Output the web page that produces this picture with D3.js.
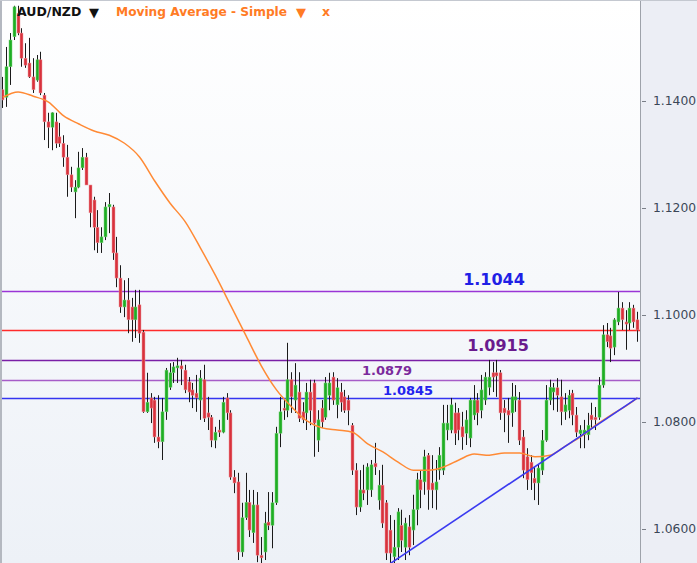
<!DOCTYPE html>
<html><head><meta charset="utf-8">
<script src="https://cdn.jsdelivr.net/npm/d3@7"></script>
<style>html,body{margin:0;padding:0;background:#fff;} svg{display:block;}</style>
</head><body>
<svg id="c" width="697" height="563"></svg>
<script>
// ---- data (AUD/NZD daily candles) ----
const opens = [
1.1421,1.1407,1.1464,1.1520,1.1564,1.1527,1.1480,1.1471,1.1445,1.1439,
1.1477,1.1411,1.1361,1.1351,1.1361,1.1333,1.1321,1.1295,1.1262,1.1230,
1.1239,1.1275,1.1295,1.1243,1.1215,1.1164,1.1135,1.1146,1.1202,1.1202,
1.1116,1.1069,1.1015,1.1028,1.1015,1.0991,1.1019,1.0968,1.0819,1.0845,
1.0841,1.0772,1.0763,1.0819,1.0865,1.0892,1.0901,1.0905,1.0897,1.0875,
1.0860,1.0854,1.0841,1.0879,1.0817,1.0809,1.0766,1.0785,1.0781,1.0845,
1.0817,1.0697,1.0688,1.0557,1.0621,1.0650,1.0593,1.0645,1.0551,1.0557,
1.0613,1.0607,1.0649,1.0779,1.0826,1.0822,1.0879,1.0841,1.0856,1.0819,
1.0817,1.0856,1.0873,1.0766,1.0826,1.0809,1.0850,1.0884,1.0832,1.0856,
1.0847,1.0841,1.0794,1.0710,1.0641,1.0673,1.0673,1.0673,1.0723,1.0654,
1.0682,1.0649,1.0598,1.0548,1.0566,1.0607,1.0566,1.0604,1.0598,1.0636,
1.0692,1.0688,1.0738,1.0686,1.0673,1.0710,1.0710,1.0785,1.0785,1.0817,
1.0817,1.0791,1.0779,1.0770,1.0813,1.0841,1.0822,1.0841,1.0865,1.0892,
1.0892,1.0892,1.0826,1.0822,1.0817,1.0841,1.0841,1.0772,1.0735,1.0725,
1.0695,1.0686,1.0710,1.0766,1.0841,1.0856,1.0864,1.0847,1.0819,1.0822,
1.0854,1.0813,1.0778,1.0776,1.0776,1.0813,1.0809,1.0809,1.0869,1.0963,
1.0961,1.0940,1.0987,1.1013,1.0987,1.0985,1.1013,1.0991];
const highs = [
1.1445,1.1501,1.1527,1.1578,1.1578,1.1536,1.1508,1.1518,1.1480,1.1486,
1.1492,1.1415,1.1378,1.1379,1.1378,1.1359,1.1336,1.1318,1.1277,1.1252,
1.1305,1.1312,1.1303,1.1243,1.1221,1.1196,1.1164,1.1211,1.1228,1.1206,
1.1146,1.1093,1.1065,1.1069,1.1032,1.1047,1.1047,1.0972,1.0892,1.0854,
1.0847,1.0850,1.0845,1.0901,1.0910,1.0912,1.0920,1.0916,1.0907,1.0884,
1.0873,1.0888,1.0897,1.0907,1.0847,1.0813,1.0791,1.0804,1.0847,1.0854,
1.0822,1.0710,1.0705,1.0649,1.0705,1.0673,1.0673,1.0669,1.0585,1.0632,
1.0669,1.0669,1.0791,1.0847,1.0841,1.0948,1.0893,1.0910,1.0893,1.0837,
1.0873,1.0879,1.0879,1.0822,1.0841,1.0884,1.0892,1.0893,1.0882,1.0873,
1.0860,1.0850,1.0798,1.0723,1.0710,1.0720,1.0723,1.0729,1.0761,1.0710,
1.0720,1.0654,1.0626,1.0617,1.0639,1.0636,1.0621,1.0626,1.0664,1.0705,
1.0710,1.0748,1.0742,1.0738,1.0729,1.0753,1.0832,1.0832,1.0845,1.0836,
1.0826,1.0819,1.0822,1.0845,1.0869,1.0854,1.0888,1.0893,1.0916,1.0912,
1.0916,1.0897,1.0841,1.0845,1.0873,1.0869,1.0856,1.0785,1.0751,1.0738,
1.0716,1.0720,1.0785,1.0869,1.0879,1.0873,1.0882,1.0879,1.0854,1.0860,
1.0860,1.0828,1.0794,1.0804,1.0817,1.0836,1.0828,1.0884,1.0981,1.0985,
1.0976,1.0994,1.1043,1.1024,1.1009,1.1024,1.1019,1.1006];
const lows = [
1.1387,1.1389,1.1430,1.1514,1.1523,1.1464,1.1462,1.1443,1.1415,1.1436,
1.1411,1.1327,1.1312,1.1308,1.1312,1.1314,1.1277,1.1221,1.1230,1.1181,
1.1237,1.1271,1.1243,1.1164,1.1121,1.1116,1.1116,1.1140,1.1153,1.1103,
1.1052,1.1004,1.0996,1.0966,1.0950,1.0957,1.0948,1.0817,1.0817,1.0798,
1.0761,1.0751,1.0729,1.0804,1.0860,1.0873,1.0873,1.0869,1.0854,1.0837,
1.0826,1.0819,1.0804,1.0800,1.0785,1.0753,1.0751,1.0772,1.0779,1.0804,
1.0692,1.0667,1.0542,1.0548,1.0617,1.0585,1.0574,1.0538,1.0536,1.0542,
1.0598,1.0564,1.0645,1.0753,1.0804,1.0809,1.0817,1.0817,1.0800,1.0798,
1.0785,1.0794,1.0735,1.0744,1.0789,1.0804,1.0822,1.0832,1.0807,1.0819,
1.0817,1.0794,1.0701,1.0626,1.0632,1.0654,1.0645,1.0660,1.0701,1.0636,
1.0602,1.0542,1.0536,1.0536,1.0542,1.0557,1.0542,1.0551,1.0570,1.0607,
1.0639,1.0664,1.0636,1.0639,1.0636,1.0692,1.0701,1.0766,1.0779,1.0757,
1.0766,1.0748,1.0757,1.0753,1.0804,1.0794,1.0807,1.0832,1.0850,1.0856,
1.0847,1.0804,1.0781,1.0761,1.0791,1.0819,1.0757,1.0695,1.0673,1.0673,
1.0654,1.0645,1.0701,1.0763,1.0832,1.0822,1.0819,1.0794,1.0804,1.0807,
1.0794,1.0772,1.0751,1.0751,1.0766,1.0789,1.0785,1.0804,1.0864,1.0940,
1.0912,1.0925,1.0981,1.0972,1.0935,1.0972,1.0976,1.0950];
const closes = [
1.1402,1.1464,1.1514,1.1576,1.1527,1.1480,1.1467,1.1445,1.1421,1.1477,
1.1415,1.1361,1.1351,1.1378,1.1321,1.1321,1.1295,1.1262,1.1239,1.1239,
1.1275,1.1295,1.1243,1.1191,1.1164,1.1135,1.1146,1.1202,1.1207,1.1116,
1.1069,1.1015,1.1028,1.0991,1.0991,1.1015,1.0966,1.0819,1.0837,1.0826,
1.0772,1.0763,1.0819,1.0897,1.0892,1.0903,1.0905,1.0899,1.0860,1.0856,
1.0850,1.0845,1.0882,1.0807,1.0809,1.0766,1.0781,1.0781,1.0837,1.0817,
1.0697,1.0686,1.0557,1.0621,1.0650,1.0598,1.0645,1.0551,1.0546,1.0611,
1.0607,1.0649,1.0779,1.0819,1.0822,1.0879,1.0847,1.0869,1.0807,1.0804,
1.0856,1.0822,1.0798,1.0804,1.0800,1.0873,1.0873,1.0841,1.0864,1.0837,
1.0822,1.0822,1.0710,1.0641,1.0673,1.0667,1.0716,1.0720,1.0716,1.0682,
1.0611,1.0555,1.0555,1.0566,1.0632,1.0579,1.0611,1.0566,1.0636,1.0692,
1.0673,1.0735,1.0673,1.0673,1.0688,1.0738,1.0798,1.0798,1.0832,1.0779,
1.0785,1.0772,1.0804,1.0841,1.0841,1.0817,1.0860,1.0884,1.0884,1.0884,
1.0886,1.0817,1.0817,1.0813,1.0847,1.0847,1.0766,1.0710,1.0692,1.0705,
1.0686,1.0714,1.0766,1.0841,1.0865,1.0864,1.0850,1.0819,1.0832,1.0850,
1.0813,1.0781,1.0785,1.0785,1.0794,1.0804,1.0804,1.0869,1.0963,1.0950,
1.0938,1.0991,1.1013,1.0991,1.0983,1.1013,1.0987,1.0972];

// Simple moving average, read at every 4th candle
const maIndex = [0,4,8,12,16,20,24,28,32,36,40,44,48,52,56,60,64,68,72,76,80,84,88,92,96,100,104,108,112,116,120,124,128,132,136,140,144,148,152,156,160,164,167];
const maValues = [1.1407,1.1417,1.1409,1.1398,1.1372,1.1357,1.1344,1.1336,1.1321,1.1295,1.1250,1.1209,1.1174,1.1125,1.1073,1.1017,1.0961,1.0905,1.0860,1.0828,1.0802,1.0789,1.0785,1.0781,1.0759,1.0744,1.0725,1.0710,1.0710,1.0716,1.0729,1.0740,1.0738,1.0742,1.0742,1.0735,1.0738,1.0755,1.0772,1.0794,1.0813,1.0830,1.0845];

// horizontal levels and labels
const levelValues = [1.1044, 1.0972, 1.0915, 1.0879, 1.0845];
const labelTexts  = ["1.1044", "", "1.0915", "1.0879", "1.0845"];

// trend line (two anchor candles)
const trendIndex = [101, 167];
const trendValues = [1.0531, 1.0845];

const yTicks = [1.06, 1.08, 1.10, 1.12, 1.14];

// ---- drawing ----
const W = 697, H = 563, plotR = 640;
const svg = d3.select("#c");
const defs = svg.append("defs");
const grad = defs.append("linearGradient").attr("id","bg").attr("x1",0).attr("y1",0).attr("x2",0).attr("y2",1);
grad.append("stop").attr("offset","0%").attr("stop-color","#ffffff");
grad.append("stop").attr("offset","100%").attr("stop-color","#edf1f7");
defs.append("clipPath").attr("id","clip").append("rect").attr("x",2).attr("y",1).attr("width",plotR-2).attr("height",H-1);

svg.append("rect").attr("x",0).attr("y",0).attr("width",plotR).attr("height",H).attr("fill","url(#bg)");
svg.append("rect").attr("x",plotR).attr("y",0).attr("width",W-plotR).attr("height",H).attr("fill","#eceef5");
svg.append("line").attr("x1",plotR+0.5).attr("x2",plotR+0.5).attr("y1",0).attr("y2",H).attr("stroke","#9ea2aa");
svg.append("line").attr("x1",1).attr("x2",1).attr("y1",0).attr("y2",H).attr("stroke","#b4b8c0").attr("stroke-width",2);
svg.append("line").attr("x1",0).attr("x2",W).attr("y1",0.5).attr("y2",0.5).attr("stroke","#c4c8d0");

const n = opens.length;
const x = d3.scaleBand().domain(d3.range(n)).range([1, 639.4]).paddingInner(0.2).paddingOuter(0.1);
const cx = i => x(i) + x.bandwidth()/2;
const y = d3.scaleLinear().domain([1.06, 1.14]).range([529, 101]);

const plot = svg.append("g").attr("clip-path","url(#clip)");

// level lines
const levelColors = ["#9a35d6", "#ff2b2b", "#7a1fa6", "#a65cc8", "#3434f0"];
plot.selectAll("line.lvl").data(levelValues).enter().append("line")
  .attr("x1",2).attr("x2",plotR)
  .attr("y1",d=>Math.round(y(d))+0.5).attr("y2",d=>Math.round(y(d))+0.5)
  .attr("stroke",(d,i)=>levelColors[i]).attr("stroke-width",1.4);

// candles
const data = d3.range(n).map(i=>({i,o:opens[i],h:highs[i],l:lows[i],c:closes[i]}));
const cg = plot.append("g");
cg.selectAll("line.w").data(data).enter().append("line")
  .attr("x1",d=>Math.round(x(d.i))+1.5).attr("x2",d=>Math.round(x(d.i))+1.5)
  .attr("y1",d=>y(d.h)).attr("y2",d=>y(d.l))
  .attr("stroke","#1a1a1a").attr("stroke-width",1);
cg.selectAll("rect.b").data(data).enter().append("rect")
  .attr("x",d=>Math.round(x(d.i))).attr("width",3)
  .attr("y",d=>y(Math.max(d.o,d.c)))
  .attr("height",d=>Math.max(1.5, Math.abs(y(d.o)-y(d.c))))
  .attr("fill",d=>d.c>=d.o ? "#1fae24" : "#d8323c")
  .attr("stroke",d=>d.c>=d.o ? "#7fd37f" : "#ee9aa0").attr("stroke-width",0.5);

// moving average
const ma = maIndex.map((k,j)=>({k, v:maValues[j]}));
plot.append("path").datum(ma)
  .attr("d", d3.line().x(d=>cx(d.k)).y(d=>y(d.v)).curve(d3.curveMonotoneX))
  .attr("fill","none").attr("stroke","#ff8a35").attr("stroke-width",1.5);

// trend line
const tr = trendIndex.map((k,j)=>({k, v:trendValues[j]}));
plot.append("path").datum(tr)
  .attr("d", d3.line().x(d=>cx(d.k)).y(d=>y(d.v)))
  .attr("fill","none").attr("stroke","#3a3af0").attr("stroke-width",1.6);

// level labels
const labelStyle = [
  {dx:494, dy:-6, size:16, color:"#1f1fe6"},
  null,
  {dx:498, dy:-9, size:16, color:"#6a1b8e"},
  {dx:387, dy:-5, size:13, color:"#7b2a9c"},
  {dx:408, dy:-3, size:13, color:"#2323ee"}
];
levelValues.forEach((v,i)=>{
  const s = labelStyle[i]; if(!s) return;
  svg.append("text").attr("x",s.dx).attr("y",Math.round(y(v))+s.dy)
    .attr("text-anchor","middle").attr("font-family","DejaVu Sans, Verdana, sans-serif")
    .attr("font-weight","bold").attr("font-size",s.size).attr("fill",s.color).text(labelTexts[i]);
});

// y axis
const ax = svg.append("g").attr("transform",`translate(642,0)`)
  .call(d3.axisRight(y).tickValues(yTicks).tickSize(4).tickPadding(7).tickFormat(d3.format(".4f")));
ax.select(".domain").remove();
ax.selectAll(".tick line").attr("stroke","#7a7f88");
ax.selectAll(".tick text").attr("font-family","DejaVu Sans, Verdana, sans-serif").attr("font-size",12.3).attr("fill","#3a4656");

// header
const hf = "DejaVu Sans, Verdana, sans-serif";
svg.append("text").attr("x",17).attr("y",16).attr("font-family",hf).attr("font-weight","bold").attr("font-size",12.5).attr("fill","#111").text("AUD/NZD");
svg.append("text").attr("x",89).attr("y",17).attr("font-family",hf).attr("font-size",13).attr("fill","#111").text("▼");
svg.append("text").attr("x",116).attr("y",16).attr("font-family",hf).attr("font-weight","bold").attr("font-size",12.2).attr("fill","#ff7b24").text("Moving Average - Simple");
svg.append("text").attr("x",296).attr("y",17).attr("font-family",hf).attr("font-size",13).attr("fill","#ff7b24").text("▼");
svg.append("text").attr("x",322).attr("y",16).attr("font-family",hf).attr("font-weight","bold").attr("font-size",12.5).attr("fill","#ff7b24").text("x");
</script>
</body></html>
